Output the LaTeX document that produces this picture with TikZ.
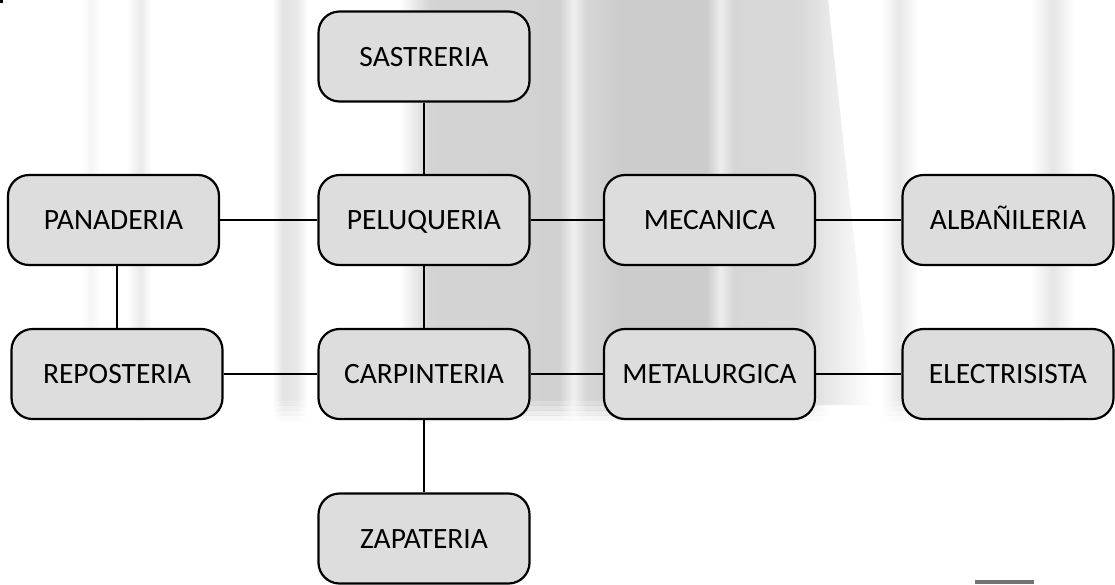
\documentclass[tikz,border=0pt]{standalone}
\usepackage{fontspec}
\setmainfont{Carlito}
\usetikzlibrary{positioning}
\definecolor{cajagris}{RGB}{221,221,221}
% franjas del fondo
\pgfdeclarehorizontalshading{fondo}{100bp}{color(0bp)=(white);
  color(25bp)=(white); color(28.6bp)=(white); color(29.1bp)=(black!4);
  color(29.5bp)=(white); color(30.7bp)=(white); color(31.3bp)=(black!8);
  color(31.8bp)=(white); color(37.2bp)=(white); color(37.7bp)=(black!11);
  color(38.3bp)=(black!9); color(38.8bp)=(white); color(42.9bp)=(white);
  color(44.3bp)=(black!17); color(50.1bp)=(black!18); color(50.7bp)=(black!6);
  color(51.3bp)=(black!16); color(52.8bp)=(black!20); color(56.7bp)=(black!20);
  color(57.3bp)=(black!7); color(57.9bp)=(black!16); color(60.9bp)=(black!15);
  color(62.2bp)=(white); color(64.5bp)=(white); color(65.3bp)=(black!9);
  color(66.2bp)=(white); color(71.2bp)=(white); color(72.2bp)=(black!10);
  color(73.2bp)=(white); color(75bp)=(white); color(100bp)=(white)}
\begin{document}
\begin{tikzpicture}[x=1pt,y=-1pt,
  oficio/.style={draw,line width=2.2pt,fill=cajagris,rounded corners=21pt,
    minimum width=211pt,minimum height=90pt,inner sep=0pt,
    text height=19pt,text depth=0pt,font=\fontsize{29.5}{34}\selectfont},
  linea/.style={line width=2pt}]
\useasboundingbox (0,0) rectangle (1115,584);
% fondo
\shade[shading=fondo] (0,0) rectangle (1115,400);
\foreach \y/\o in {400/0.8,405/0.6,410/0.4,415/0.2}
  \shade[shading=fondo,opacity=\o] (0,\y) rectangle (1115,\y+5);
\shade[left color=black!15,right color=white] (800,0) -- (828,0) -- (872,405) -- (800,405) -- cycle;
\fill[black] (0,0) rectangle (3,3);
\fill[black!55] (975,580) rectangle (1034,584);
% oficios
\node[oficio] (sastreria) at (424,56.5) {SASTRERIA};
\node[oficio] (panaderia) at (113.5,220) {PANADERIA};
\node[oficio] (peluqueria) at (424,220) {PELUQUERIA};
\node[oficio] (mecanica) at (709.5,220) {MECANICA};
\node[oficio] (albanileria) at (1008,220) {ALBAÑILERIA};
\node[oficio] (reposteria) at (117,374) {REPOSTERIA};
\node[oficio] (carpinteria) at (424,374) {CARPINTERIA};
\node[oficio] (metalurgica) at (709.5,374) {METALURGICA};
\node[oficio] (electrisista) at (1008,374) {ELECTRISISTA};
\node[oficio] (zapateria) at (424,538.5) {ZAPATERIA};
% uniones
\draw[linea] (sastreria) -- (peluqueria);
\draw[linea] (panaderia) -- (peluqueria);
\draw[linea] (peluqueria) -- (mecanica);
\draw[linea] (mecanica) -- (albanileria);
\draw[linea] (reposteria.north) -- (reposteria.north |- panaderia.south);
\draw[linea] (peluqueria) -- (carpinteria);
\draw[linea] (reposteria) -- (carpinteria);
\draw[linea] (carpinteria) -- (metalurgica);
\draw[linea] (metalurgica) -- (electrisista);
\draw[linea] (carpinteria) -- (zapateria);
\end{tikzpicture}
\end{document}
